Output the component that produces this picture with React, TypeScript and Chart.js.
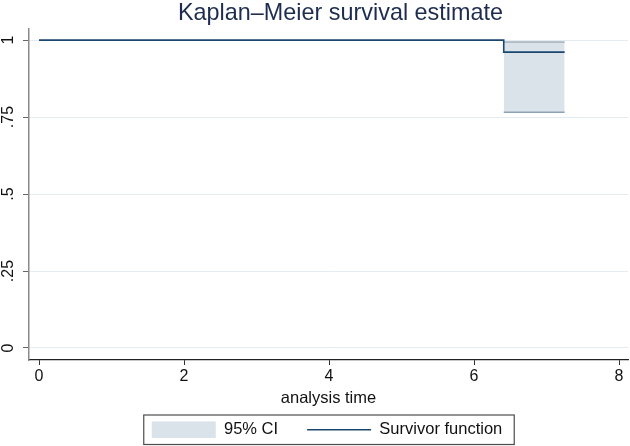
import React, { useEffect, useRef } from 'react';
import { Chart, registerables } from 'chart.js';

Chart.register(...registerables);

// ---- data ----
const survTimes = [0, 6.41, 7.25];
const survValues = [1, 0.961, 0.961];
const ciTimes = [6.41, 7.25];
const ciUpper = [0.9935, 0.9935];
const ciLower = [0.766, 0.766];
const xTickValues = [0, 2, 4, 6, 8];
const xTickLabels = ['0', '2', '4', '6', '8'];
const yTickValues = [0, 0.25, 0.5, 0.75, 1];
const yTickLabels = ['0', '.25', '.5', '.75', '1'];
const titleText = 'Kaplan–Meier survival estimate';
const xTitleText = 'analysis time';
const legendLabels = ['95% CI', 'Survivor function'];

// ---- styles ----
const FAMILY = "'Liberation Sans', Arial, Helvetica, sans-serif";
const NAVY = '#1a476f';
const CI_FILL = 'rgb(218,226,234)';
const CI_EDGE_TOP = '#a3adb8';
const CI_EDGE_BOTTOM = '#8fa3b8';
const TITLE_COLOR = '#1e2d4f';
const TEXT_COLOR = '#111111';

const framePlugin = {
  id: 'legendFrame',
  afterLayout(chart: any) {
    if (chart.titleBlock) {
      chart.titleBlock.left = 53;
    }
    if (chart.legend) {
      chart.legend.left = 26;
      chart.legend.width = chart.legend.right - 26;
    }
  },
  afterDraw(chart: any) {
    const lg = chart.legend;
    const hb = lg && lg.legendHitBoxes;
    if (!hb || !hb.length) return;
    const first = hb[0];
    const last = hb[hb.length - 1];
    const ctx = chart.ctx;
    ctx.save();
    ctx.strokeStyle = '#4d4d4d';
    ctx.lineWidth = 1.2;
    const x0 = first.left - 8;
    const x1 = last.left + last.width + 12;
    const y0 = first.top - 6.5;
    const y1 = first.top + first.height + 6.5;
    ctx.strokeRect(x0, y0, x1 - x0, y1 - y0);
    ctx.restore();
  },
};

export default function App() {
  const ref = useRef<HTMLCanvasElement | null>(null);

  useEffect(() => {
    if (!ref.current) return;
    Chart.defaults.font.family = FAMILY;
    const chart = new Chart(ref.current, {
      type: 'line',
      data: {
        datasets: [
          {
            label: legendLabels[1],
            data: survTimes.map((t, i) => ({ x: t, y: survValues[i] })),
            borderColor: NAVY,
            backgroundColor: NAVY,
            borderWidth: 1.6,
            stepped: 'before',
            pointRadius: 0,
            fill: false,
            order: 0,
          },
          {
            label: 'upper',
            data: ciTimes.map((t, i) => ({ x: t, y: ciUpper[i] })),
            borderColor: CI_EDGE_TOP,
            borderWidth: 1.5,
            pointRadius: 0,
            fill: false,
            order: 1,
          },
          {
            label: legendLabels[0],
            data: ciTimes.map((t, i) => ({ x: t, y: ciLower[i] })),
            borderColor: CI_EDGE_BOTTOM,
            backgroundColor: CI_FILL,
            borderWidth: 1.5,
            pointRadius: 0,
            fill: { target: 1 },
            order: 2,
          },
        ],
      },
      options: {
        animation: false,
        responsive: false,
        devicePixelRatio: 1,
        layout: { padding: { left: 0, right: 2, top: 0, bottom: 0 } },
        plugins: {
          title: {
            display: true,
            text: titleText,
            color: TITLE_COLOR,
            font: { size: 23.4, family: FAMILY, weight: 'normal', lineHeight: 1 },
            padding: { top: 2.3, bottom: 3.3 },
          },
          legend: {
            position: 'bottom',
            labels: {
              usePointStyle: true,
              pointStyleWidth: 64,
              boxHeight: 17,
              padding: 29,
              color: TEXT_COLOR,
              font: { size: 16.5, family: FAMILY },
              generateLabels: () => [
                {
                  text: legendLabels[0],
                  fillStyle: CI_FILL,
                  strokeStyle: CI_FILL,
                  lineWidth: 0,
                  pointStyle: 'rect',
                  hidden: false,
                  datasetIndex: 2,
                  fontColor: TEXT_COLOR,
                },
                {
                  text: legendLabels[1],
                  fillStyle: NAVY,
                  strokeStyle: NAVY,
                  lineWidth: 1.6,
                  pointStyle: 'line',
                  hidden: false,
                  datasetIndex: 0,
                  fontColor: TEXT_COLOR,
                },
              ],
            },
          },
          tooltip: { enabled: false },
        },
        scales: {
          x: {
            type: 'linear',
            min: -0.138,
            max: 8.124,
            afterBuildTicks: (s: any) => {
              s.ticks = xTickValues.map((v) => ({ value: v }));
            },
            afterFit: (s: any) => {
              s.height = 32.5;
            },
            ticks: {
              autoSkip: false,
              maxRotation: 0,
              padding: 2.2,
              color: TEXT_COLOR,
              font: { size: 16, family: FAMILY },
              callback: (v: any) => xTickLabels[xTickValues.indexOf(Number(v))] ?? '',
            },
            grid: { drawOnChartArea: false, drawTicks: true, tickLength: 5, tickColor: '#333333' },
            border: { color: '#222222', width: 1.2 },
            title: {
              display: true,
              text: xTitleText,
              color: TEXT_COLOR,
              font: { size: 16.5, family: FAMILY },
              padding: { top: 0, bottom: -15.4 },
            },
          },
          y: {
            type: 'linear',
            min: -0.039,
            max: 1.036,
            afterBuildTicks: (s: any) => {
              s.ticks = yTickValues.map((v) => ({ value: v }));
            },
            afterFit: (s: any) => {
              s.width = 29;
            },
            ticks: {
              autoSkip: false,
              minRotation: 90,
              maxRotation: 90,
              crossAlign: 'center',
              padding: 3,
              color: TEXT_COLOR,
              font: { size: 16, family: FAMILY },
              callback: (v: any) => yTickLabels[yTickValues.indexOf(Number(v))] ?? '',
            },
            grid: { color: '#e3ecf1', lineWidth: 1, tickLength: 6, tickColor: '#666666' },
            border: { color: '#8a8a8a', width: 1.5 },
          },
        },
      } as any,
      plugins: [framePlugin],
    });
    return () => chart.destroy();
  }, []);

  return (
    <div
      style={{
        position: 'fixed',
        left: 0,
        top: 0,
        width: 630,
        height: 446,
        overflow: 'hidden',
        background: '#ffffff',
      }}
    >
      <canvas ref={ref} width={630} height={448} style={{ display: 'block' }} />
    </div>
  );
}
